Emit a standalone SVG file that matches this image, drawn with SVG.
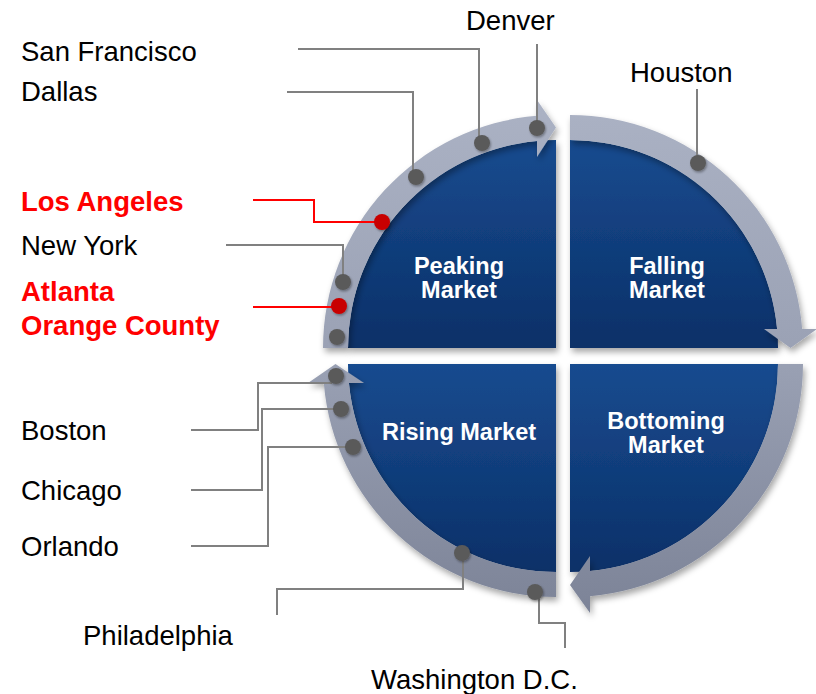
<svg xmlns="http://www.w3.org/2000/svg" width="816" height="694" viewBox="0 0 816 694">
<defs>
<linearGradient id="blue" x1="0" y1="0" x2="0" y2="1">
<stop offset="0" stop-color="#174b8f"/>
<stop offset="1" stop-color="#0b3068"/>
</linearGradient>
<linearGradient id="band" gradientUnits="userSpaceOnUse" x1="0" y1="100" x2="0" y2="615">
<stop offset="0" stop-color="#abb2c4"/>
<stop offset="0.5" stop-color="#9aa1b4"/>
<stop offset="1" stop-color="#7c8397"/>
</linearGradient>
<filter id="sh" x="-10%" y="-10%" width="125%" height="125%">
<feDropShadow dx="2" dy="4" stdDeviation="3" flood-color="#000" flood-opacity="0.35"/>
</filter>
<filter id="dsh" x="-50%" y="-50%" width="200%" height="200%">
<feDropShadow dx="1" dy="1.5" stdDeviation="1.2" flood-color="#000" flood-opacity="0.35"/>
</filter>
</defs>
<style>
.q{fill:url(#blue);filter:url(#sh)}
.b{fill:url(#band);filter:url(#sh)}
.ql{font-family:"Liberation Sans",Arial,sans-serif;font-weight:bold;font-size:23.5px;fill:#fff;text-anchor:middle}
.lbl{font-family:"Liberation Sans",Arial,sans-serif;font-size:27.5px;fill:#000}
.red{fill:#ff0000;font-weight:bold}
.ln{fill:none;stroke:#808080;stroke-width:2}
.rl{fill:none;stroke:#ff0000;stroke-width:2}
.dot{fill:#5a5a5a;filter:url(#dsh)}
.rdot{fill:#c80000;filter:url(#dsh)}
</style>
<rect width="816" height="694" fill="#fff"/>

<g id="peaking">
<path class="q" d="M556,348 L348,348 A208,208 0 0 1 556,140 Z"/>
<path class="b" d="M323,348 A233,233 0 0 1 537,115.8 L537,100 L556,127.5 L537,157 L537,140.9 A208,208 0 0 0 348,348 Z"/>
<text class="ql" x="459" y="274">Peaking</text>
<text class="ql" x="459" y="298">Market</text>
</g>
<g id="falling">
<path class="q" d="M570,348 L570,140 A208,208 0 0 1 778,348 Z"/>
<path class="b" d="M570,115 A233,233 0 0 1 802.2,329 L817,329 L790.5,348 L764,329 L777.1,329 A208,208 0 0 0 570,140 Z"/>
<text class="ql" x="667" y="274">Falling</text>
<text class="ql" x="667" y="298">Market</text>
</g>
<g id="bottoming">
<path class="q" d="M570,364 L778,364 A208,208 0 0 1 570,572 Z"/>
<path class="b" d="M803,364 A233,233 0 0 1 590,596.2 L590,613 L570,585 L590,556 L590,571.1 A208,208 0 0 0 778,364 Z"/>
<text class="ql" x="666" y="429">Bottoming</text>
<text class="ql" x="666" y="453">Market</text>
</g>
<g id="rising">
<path class="q" d="M556,364 L556,572 A208,208 0 0 1 348,364 Z"/>
<path class="b" d="M556,597 A233,233 0 0 1 323.8,383 L308,383 L335.5,364 L364,383 L348.9,383 A208,208 0 0 0 556,572 Z"/>
<text class="ql" x="459" y="440">Rising Market</text>
</g>

<g id="connectors">
<path class="ln" d="M298,49 H479 V143"/>
<path class="ln" d="M287,92 H413 V177"/>
<path class="ln" d="M537,44 V128"/>
<path class="ln" d="M697,89 V163"/>
<path class="rl" d="M253,200 H314 V222 H382"/>
<path class="ln" d="M226,245 H343 V282"/>
<path class="rl" d="M253,307 H339"/>
<path class="ln" d="M191,430 H258 V383 H332"/>
<path class="ln" d="M191,490 H262 V409 H341"/>
<path class="ln" d="M191,546 H268 V447 H353"/>
<path class="ln" d="M277,615 V589 H463 V553"/>
<path class="ln" d="M539,592 V623 H565 V648"/>
</g>

<g id="san-francisco"><text class="lbl" x="21" y="61">San Francisco</text><circle class="dot" cx="482" cy="143" r="8"/></g>
<g id="dallas"><text class="lbl" x="21" y="101">Dallas</text><circle class="dot" cx="416" cy="177" r="8"/></g>
<g id="denver"><text class="lbl" x="466" y="30">Denver</text><circle class="dot" cx="537" cy="128" r="8"/></g>
<g id="houston"><text class="lbl" x="630" y="82">Houston</text><circle class="dot" cx="698" cy="163" r="8"/></g>
<g id="los-angeles"><text class="lbl red" x="21" y="211">Los Angeles</text><circle class="rdot" cx="382" cy="222" r="8"/></g>
<g id="new-york"><text class="lbl" x="21" y="255">New York</text><circle class="dot" cx="343" cy="282" r="8"/></g>
<g id="atlanta-orange-county"><text class="lbl red" x="21" y="301">Atlanta</text><text class="lbl red" x="21" y="335">Orange County</text><circle class="rdot" cx="339" cy="306" r="8"/></g>
<g id="unlabeled-dot"><circle class="dot" cx="337" cy="337" r="8"/></g>
<g id="boston"><text class="lbl" x="21" y="440">Boston</text><circle class="dot" cx="336" cy="376" r="8"/></g>
<g id="chicago"><text class="lbl" x="21" y="500">Chicago</text><circle class="dot" cx="341" cy="409" r="8"/></g>
<g id="orlando"><text class="lbl" x="21" y="556">Orlando</text><circle class="dot" cx="353" cy="447" r="8"/></g>
<g id="philadelphia"><text class="lbl" x="83" y="645">Philadelphia</text><circle class="dot" cx="462" cy="553" r="8"/></g>
<g id="washington"><text class="lbl" x="371" y="689">Washington D.C.</text><circle class="dot" cx="535" cy="592" r="8"/></g>
</svg>
